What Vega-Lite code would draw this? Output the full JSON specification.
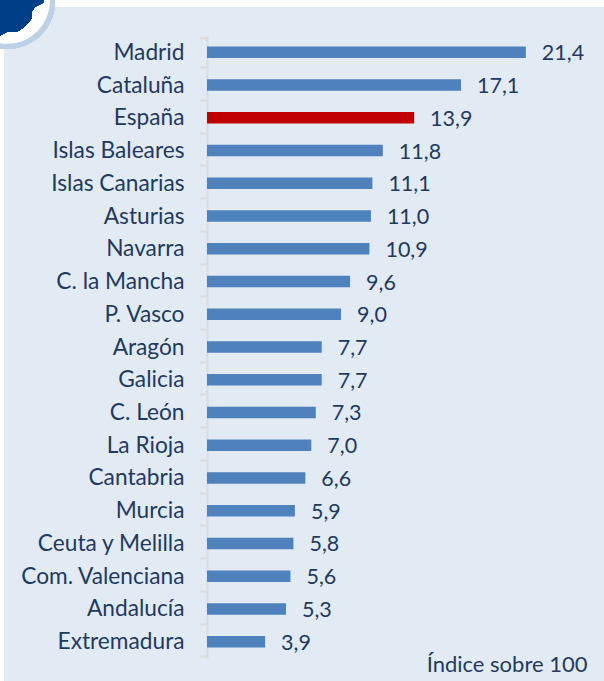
{
"$schema":"https://vega.github.io/schema/vega-lite/v6.json",
"width":600,"height":674,
"autosize":{"type":"none"},
"padding":{"left":4,"top":7,"right":0,"bottom":0},
"background":"#ffffff",
"view":{"fill":"#e2eaf4","stroke":null},
"config":{"font":"Lato"},
"data":{"values":[
{"region":"Madrid","valor":21.4,"etiqueta":"21,4","grupo":"ccaa"},
{"region":"Cataluña","valor":17.05,"etiqueta":"17,1","grupo":"ccaa"},
{"region":"España","valor":13.9,"etiqueta":"13,9","grupo":"total"},
{"region":"Islas Baleares","valor":11.8,"etiqueta":"11,8","grupo":"ccaa"},
{"region":"Islas Canarias","valor":11.1,"etiqueta":"11,1","grupo":"ccaa"},
{"region":"Asturias","valor":11.0,"etiqueta":"11,0","grupo":"ccaa"},
{"region":"Navarra","valor":10.9,"etiqueta":"10,9","grupo":"ccaa"},
{"region":"C. la Mancha","valor":9.6,"etiqueta":"9,6","grupo":"ccaa"},
{"region":"P. Vasco","valor":9.0,"etiqueta":"9,0","grupo":"ccaa"},
{"region":"Aragón","valor":7.7,"etiqueta":"7,7","grupo":"ccaa"},
{"region":"Galicia","valor":7.7,"etiqueta":"7,7","grupo":"ccaa"},
{"region":"C. León","valor":7.3,"etiqueta":"7,3","grupo":"ccaa"},
{"region":"La Rioja","valor":7.0,"etiqueta":"7,0","grupo":"ccaa"},
{"region":"Cantabria","valor":6.6,"etiqueta":"6,6","grupo":"ccaa"},
{"region":"Murcia","valor":5.9,"etiqueta":"5,9","grupo":"ccaa"},
{"region":"Ceuta y Melilla","valor":5.8,"etiqueta":"5,8","grupo":"ccaa"},
{"region":"Com. Valenciana","valor":5.6,"etiqueta":"5,6","grupo":"ccaa"},
{"region":"Andalucía","valor":5.3,"etiqueta":"5,3","grupo":"ccaa"},
{"region":"Extremadura","valor":3.9,"etiqueta":"3,9","grupo":"ccaa"}
]},
"encoding":{
"y":{"field":"region","type":"nominal","sort":null,"title":null,
 "scale":{"range":[29,651]},
 "axis":{"orient":"left","offset":-203,"tickBand":"extent","labelFont":"Lato","labelFontSize":22.7,"labelColor":"#1f3a60","labelPadding":15,"labelLimit":200,"labelOverlap":false,"domainColor":"#dcdcdc","domainWidth":2,"tickColor":"#dcdcdc","tickWidth":2,"tickSize":8,"grid":false}},
"x":{"field":"valor","type":"quantitative","scale":{"domain":[0,26],"range":[203,590.4],"nice":false},
 "axis":{"orient":"bottom","domain":false,"ticks":false,"labels":false,"grid":false,"title":"Índice sobre 100","titleFont":"Lato","titleFontSize":22,"titleFontWeight":"normal","titleColor":"#1f3a60","titleX":583,"titleY":-10,"titleAlign":"right","titleBaseline":"alphabetic"}}
},
"layer":[
{"mark":{"type":"bar","size":11.5},
 "encoding":{"color":{"field":"grupo","type":"nominal","legend":null,"scale":{"domain":["ccaa","total"],"range":["#4f81bd","#c00000"]}}}},
{"mark":{"type":"text","align":"left","baseline":"middle","dx":16,"dy":2,"font":"Lato","fontSize":21.5,"color":"#1f3a60"},
 "encoding":{"text":{"field":"etiqueta","type":"nominal"}}},
{"mark":{"type":"point","shape":"circle","size":8281,"filled":true,"fill":"#ffffff","stroke":"#bcd0e6","strokeWidth":5,"opacity":1,"xOffset":-200,"yOffset":-51.5},
 "encoding":{"x":{"datum":0},"y":{"datum":"Madrid"}}},
{"mark":{"type":"point","shape":"M0.76,-0.1L0.72,0.04L0.56,0.12L0.48,0.24L0.5,0.34L0.44,0.42L0.32,0.54L0.2,0.62L0,0.62L-0.14,0.7L-0.14,-0.1Z","size":10000,"filled":true,"fill":"#003f87","stroke":null,"opacity":1,"xOffset":-200,"yOffset":-51.5},
 "encoding":{"x":{"datum":0},"y":{"datum":"Madrid"}}}
]
}
